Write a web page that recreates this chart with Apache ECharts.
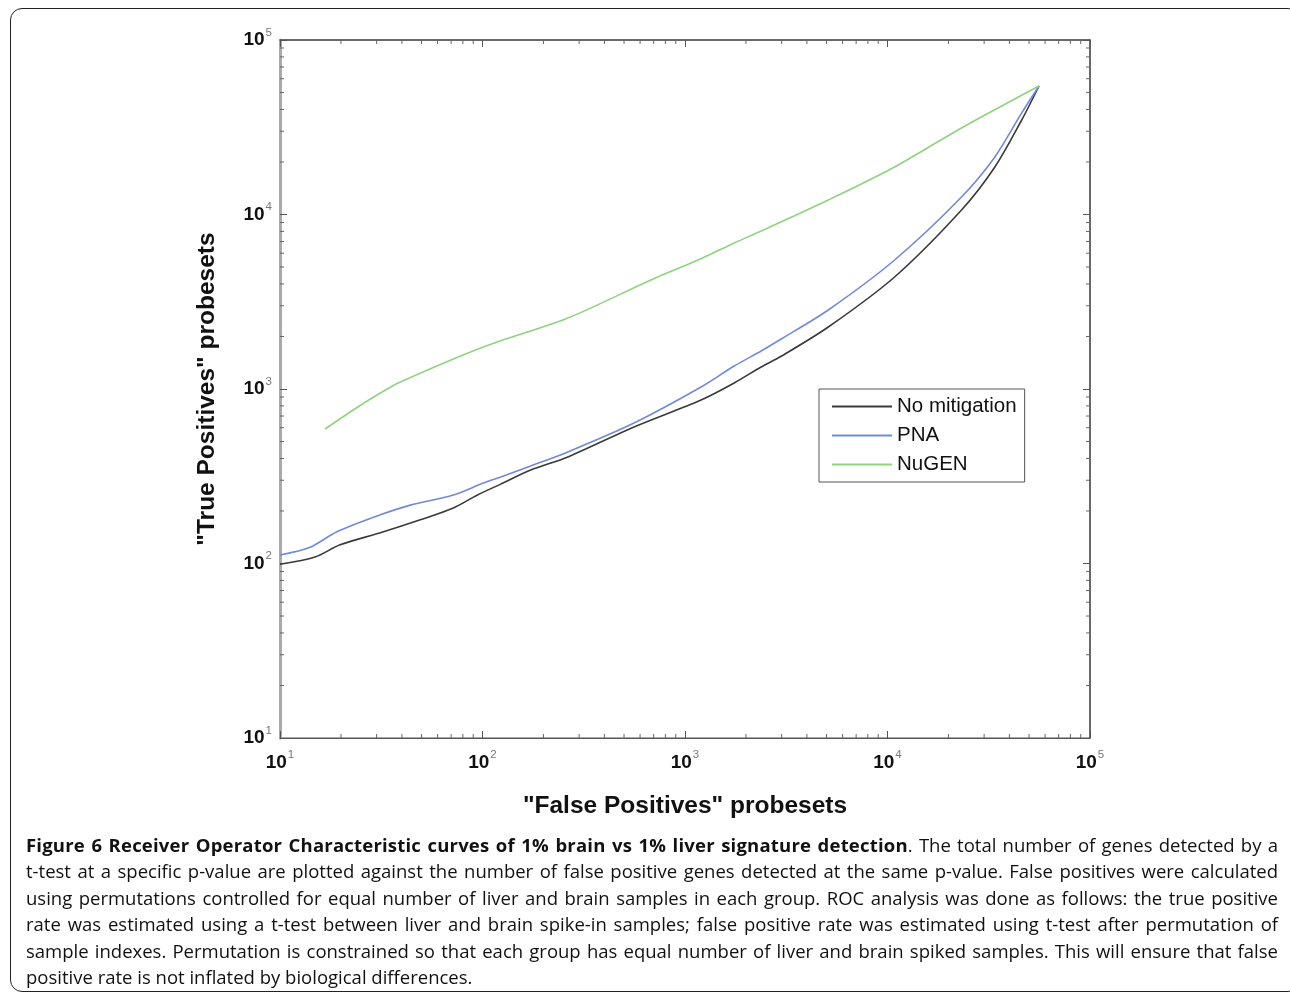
<!DOCTYPE html>
<html>
<head>
<meta charset="utf-8">
<script src="https://cdn.jsdelivr.net/npm/echarts@6/dist/echarts.min.js"></script>
<style>
  html, body { margin: 0; padding: 0; background: #fff; }
  #wrap { position: relative; width: 1290px; height: 996px; overflow: hidden; }
  #roc { position: absolute; left: 0; top: 0; width: 1290px; height: 996px; }
  #frame { position: absolute; left: 10px; top: 8px; width: 1290px; height: 984px;
           border: 1.5px solid #222; border-radius: 12px; box-sizing: border-box; pointer-events: none; }
  #caption { position: absolute; left: 26px; top: 832px; width: 1252px;
             font-family: "Open Sans", sans-serif; font-size: 18.5px; line-height: 26.4px; color: #111; }
  #caption div { white-space: nowrap; text-align: justify; text-align-last: justify; }
  #caption div.last { text-align-last: left; }
  #caption b { font-weight: 700; letter-spacing: 0.2px; }
</style>
</head>
<body>
<div id="wrap">
  <div id="roc"></div>
  <div id="frame"></div>
  <div id="caption">
    <div><b>Figure 6 Receiver Operator Characteristic curves of 1% brain vs 1% liver signature detection</b>. The total number of genes detected by a</div>
    <div>t-test at a specific p-value are plotted against the number of false positive genes detected at the same p-value. False positives were calculated</div>
    <div>using permutations controlled for equal number of liver and brain samples in each group. ROC analysis was done as follows: the true positive</div>
    <div>rate was estimated using a t-test between liver and brain spike-in samples; false positive rate was estimated using t-test after permutation of</div>
    <div>sample indexes. Permutation is constrained so that each group has equal number of liver and brain spiked samples. This will ensure that false</div>
    <div class="last">positive rate is not inflated by biological differences.</div>
  </div>
</div>
<script>
// (log-log)
var seriesNames = ['No mitigation', 'PNA', 'NuGEN'];

var fpNoMit = [10, 14.9, 19.8, 31.3, 49.3, 71.8, 94.4, 123, 173, 264, 560, 1200, 1750, 2377, 2985, 5100, 10840, 23200, 33900, 46000, 56000];
var tpNoMit = [99, 109, 128, 150, 178, 208, 247, 285, 343, 408, 606, 865, 1083, 1337, 1540, 2266, 4385, 10610, 18720, 34800, 54500];

var fpPNA = [10, 14.1, 19.1, 31.3, 44, 71.8, 101, 123, 173, 264, 560, 1200, 1750, 2377, 2985, 5100, 10840, 23200, 33900, 46000, 56000];
var tpPNA = [112, 124, 152, 190, 216, 247, 289, 313, 362, 436, 638, 1026, 1354, 1651, 1934, 2837, 5485, 12600, 21370, 38200, 54500];

var fpNuGEN = [16.7, 23, 31.3, 39.3, 101, 264, 679, 1159, 1750, 2377, 5100, 10840, 23200, 56000];
var tpNuGEN = [590, 758, 948, 1097, 1741, 2553, 4217, 5485, 6866, 8040, 12110, 18720, 31330, 54500];

var colors = ['#3a3a3a', '#7289d8', '#90d281'];

function zip(xs, ys) {
    return xs.map(function (x, i) { return [x, ys[i]]; });
}

// minor ticks 2..9 in each decade, both axes
var minorTicks = [];
for (var k = 1; k <= 4; k++) {
    for (var m = 2; m <= 9; m++) {
        minorTicks.push([m * Math.pow(10, k), 100, 0]);
        minorTicks.push([100, m * Math.pow(10, k), 1]);
    }
}

var font = '"Liberation Sans", Arial, sans-serif';

function powLabel(v) {
    var e = Math.round(Math.log10(v));
    return '{b|10}{e|' + e + '}';
}
var labelRich = {
    b: { fontSize: 19, fontWeight: 'bold', color: '#111', fontFamily: font },
    e: { fontSize: 11.5, color: '#777', fontFamily: font, padding: [0, 0, 15, 1] }
};

var myChart = echarts.init(document.getElementById('roc'));

var option = {
    animation: false,
    grid: {
        left: 280,
        right: 200,
        top: 40,
        bottom: 258,
        show: true,
        borderColor: '#555',
        borderWidth: 1
    },
    legend: {
        data: seriesNames,
        orient: 'vertical',
        left: 819,
        top: 389,
        icon: 'rect',
        itemWidth: 60,
        itemHeight: 2,
        itemGap: 8,
        padding: [7, 8, 7, 13],
        backgroundColor: '#fff',
        borderColor: '#555',
        borderWidth: 1,
        textStyle: { fontSize: 20.5, color: '#111', fontFamily: font }
    },
    xAxis: [
        {
            type: 'log',
            logBase: 10,
            min: 10,
            max: 100000,
            name: '"False Positives" probesets',
            nameLocation: 'middle',
            nameGap: 56,
            nameTextStyle: { fontSize: 24.5, fontWeight: 'bold', color: '#111', fontFamily: font },
            axisLine: { lineStyle: { color: '#555', width: 1 } },
            axisTick: { inside: true, length: 7, lineStyle: { color: '#555' } },
            axisLabel: { margin: 11, formatter: powLabel, rich: labelRich },
            splitLine: { show: false }
        },
        {
            type: 'log',
            logBase: 10,
            min: 10,
            max: 100000,
            position: 'top',
            axisLine: { lineStyle: { color: '#555', width: 1.5 } },
            axisTick: { inside: true, length: 7, lineStyle: { color: '#555' } },
            axisLabel: { show: false },
            splitLine: { show: false }
        }
    ],
    yAxis: [
        {
            type: 'log',
            logBase: 10,
            min: 10,
            max: 100000,
            name: '"True Positives" probesets',
            nameLocation: 'middle',
            nameGap: 60,
            nameTextStyle: { fontSize: 24.5, fontWeight: 'bold', color: '#111', fontFamily: font },
            axisLine: { lineStyle: { color: '#aaa', width: 3 } },
            axisTick: { inside: true, length: 7, lineStyle: { color: '#555' } },
            axisLabel: { margin: 8, formatter: powLabel, rich: labelRich },
            splitLine: { show: false }
        },
        {
            type: 'log',
            logBase: 10,
            min: 10,
            max: 100000,
            position: 'right',
            axisLine: { lineStyle: { color: '#555', width: 1.5 } },
            axisTick: { inside: true, length: 7, lineStyle: { color: '#555' } },
            axisLabel: { show: false },
            splitLine: { show: false }
        }
    ],
    series: [
        {
            name: seriesNames[0],
            type: 'line',
            data: zip(fpNoMit, tpNoMit),
            smooth: 0.3,
            showSymbol: false,
            color: colors[0],
            lineStyle: { width: 1.6, color: colors[0] }
        },
        {
            name: seriesNames[1],
            type: 'line',
            data: zip(fpPNA, tpPNA),
            smooth: 0.3,
            showSymbol: false,
            color: colors[1],
            lineStyle: { width: 1.6, color: colors[1] }
        },
        {
            name: seriesNames[2],
            type: 'line',
            data: zip(fpNuGEN, tpNuGEN),
            smooth: 0.3,
            showSymbol: false,
            color: colors[2],
            lineStyle: { width: 1.6, color: colors[2] }
        },
        {
            // minor ticks on all four sides, placed through the axes
            type: 'custom',
            silent: true,
            clip: false,
            z: 5,
            data: minorTicks,
            renderItem: function (params, api) {
                var cs = params.coordSys;
                var p = api.coord([api.value(0), api.value(1)]);
                var st = { stroke: '#666', lineWidth: 1 };
                var len = 4;
                if (api.value(2) === 0) {
                    return {
                        type: 'group',
                        children: [
                            { type: 'line', shape: { x1: p[0], y1: cs.y + cs.height, x2: p[0], y2: cs.y + cs.height - len }, style: st },
                            { type: 'line', shape: { x1: p[0], y1: cs.y, x2: p[0], y2: cs.y + len }, style: st }
                        ]
                    };
                }
                return {
                    type: 'group',
                    children: [
                        { type: 'line', shape: { x1: cs.x, y1: p[1], x2: cs.x + len, y2: p[1] }, style: st },
                        { type: 'line', shape: { x1: cs.x + cs.width, y1: p[1], x2: cs.x + cs.width - len, y2: p[1] }, style: st }
                    ]
                };
            }
        }
    ]
};

myChart.setOption(option);
</script>
</body>
</html>
